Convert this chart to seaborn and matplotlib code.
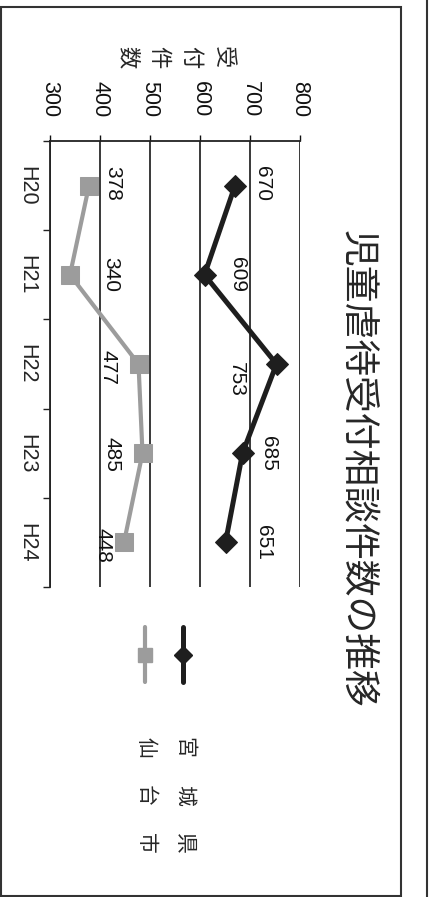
import numpy as np
import pandas as pd
import matplotlib
matplotlib.use("Agg")
import matplotlib.pyplot as plt
from matplotlib.lines import Line2D
from matplotlib.patches import Rectangle
import seaborn as sns

years = ['H20', 'H21', 'H22', 'H23', 'H24']
miyagi = [670, 609, 753, 685, 651]
sendai = [378, 340, 477, 485, 448]
series_names = ['宮城県', '仙台市']

df = pd.DataFrame({
    'year': years * 2,
    'pos': list(range(len(years))) * 2,
    'count': miyagi + sendai,
    'series': [series_names[0]] * len(years) + [series_names[1]] * len(years),
})

sns.set_style('white')
plt.rcParams['font.family'] = ['Liberation Sans', 'Noto Sans CJK JP', 'DejaVu Sans']

W, H = 429, 897
fig = plt.figure(figsize=(W / 100, H / 100), dpi=100)
ax = fig.add_axes([50 / W, 1 - 587 / H, 250 / W, (587 - 141) / H])

dark = '#1e1e1e'
grey = '#9c9c9c'

# the whole chart is turned 90 degrees clockwise: values run left->right, years top->bottom
sns.lineplot(data=df[df['series'] == '宮城県'], x='count', y='pos', orient='y', sort=False,
             color=dark, lw=3.6, marker='D', markersize=11, markeredgecolor=dark,
             legend=False, ax=ax)
sns.lineplot(data=df[df['series'] == '仙台市'], x='count', y='pos', orient='y', sort=False,
             color=grey, lw=3.0, marker='s', markersize=13, markeredgecolor=grey,
             legend=False, ax=ax)

ax.set_xlim(300, 800)
ax.set_ylim(len(years) - 0.5, -0.5)
ax.set_xlabel('')
ax.set_ylabel('')

# value axis on top
ax.xaxis.tick_top()
ax.set_xticks(range(300, 801, 100))
ax.tick_params(axis='x', top=True, bottom=False, length=4, width=1, pad=13,
               labelsize=15.5, labelrotation=270, colors='#111')
ax.grid(axis='x', color='#2a2a2a', lw=1.3)
ax.grid(axis='y', visible=False)
ax.set_axisbelow(True)

# category axis on the left: ticks between years, labels at the centres
ax.set_yticks(np.arange(-0.5, len(years), 1.0))
ax.set_yticklabels([])
ax.set_yticks(range(len(years)), minor=True)
ax.set_yticklabels(years, minor=True, rotation=270, va='center')
ax.tick_params(axis='y', which='major', left=True, length=5, width=1, color='#222')
ax.tick_params(axis='y', which='minor', left=True, length=0, pad=9, labelsize=15.5)

for s in ['right', 'bottom']:
    ax.spines[s].set_visible(False)
for s in ['left', 'top']:
    ax.spines[s].set_color('#222')
    ax.spines[s].set_linewidth(1.3)

# data labels
miyagi_off = [(27, 2), (33, 0), (-40, -15), (26, 0), (38, 0)]
sendai_off = [(24, 2), (41, 0), (-31, -3), (-31, -1), (-21, -3)]
for i, (v, o) in enumerate(zip(miyagi, miyagi_off)):
    ax.annotate(str(v), (v, i), xytext=o, textcoords='offset pixels', rotation=270,
                ha='center', va='center', fontsize=15, color='#111')
for i, (v, o) in enumerate(zip(sendai, sendai_off)):
    ax.annotate(str(v), (v, i), xytext=o, textcoords='offset pixels', rotation=270,
                ha='center', va='center', fontsize=15, color='#111')

# title and axis title
fig.text(358 / W, 1 - 469 / H, '児童虐待受付相談件数の推移', rotation=270,
         ha='center', va='center', fontsize=26.5, family=['Noto Sans CJK JP', 'DejaVu Sans'])
for ch, x in zip('受付件数', [223, 191, 159, 127]):
    fig.text(x / W, 1 - 57 / H, ch, rotation=270, ha='center', va='center',
             fontsize=16, family=['Noto Sans CJK JP', 'DejaVu Sans'])

# legend (drawn by hand since it is rotated too)
leg = [(series_names[0], dark, 'D', 3.6, 9, 183), (series_names[1], grey, 's', 3.0, 10, 145)]
for name, col, mk, lw, ms, x in leg:
    fig.add_artist(Line2D([x / W] * 3, [1 - 627 / H, 1 - 655 / H, 1 - 682 / H],
                          transform=fig.transFigure, color=col, lw=lw, marker=mk,
                          markersize=ms, markevery=[1], markeredgecolor=col))
    for ch, y in zip(name, [747, 795, 843]):
        fig.text((x + 1) / W, 1 - y / H, ch, rotation=270, ha='center', va='center',
                 fontsize=15, family=['Noto Sans CJK JP', 'DejaVu Sans'])

# frame of the scanned chart
fig.add_artist(Rectangle((1 / W, 1 - 896 / H), 400 / W, 889 / H, fill=False,
                         transform=fig.transFigure, lw=1.5, ec='#333'))
fig.add_artist(Line2D([427 / W] * 2, [0, 1], transform=fig.transFigure, color='#333', lw=1.5))

fig.savefig('out.png', dpi=100)
